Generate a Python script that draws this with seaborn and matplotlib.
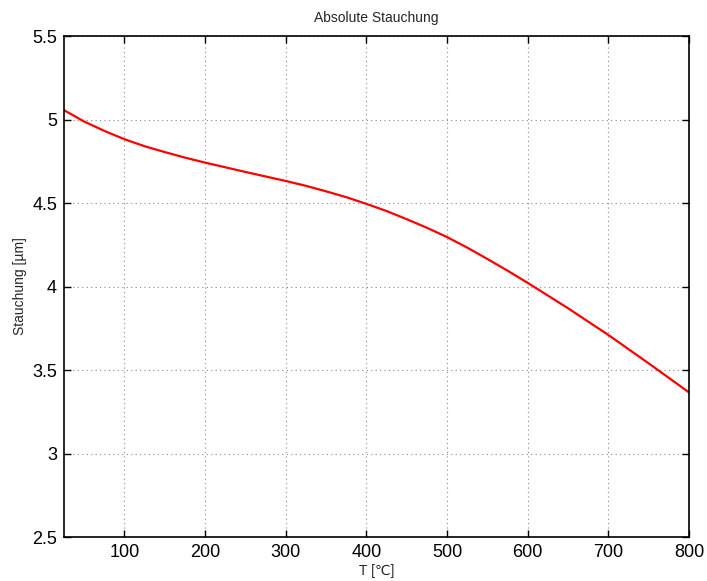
import matplotlib
matplotlib.use("Agg")
import matplotlib.pyplot as plt
import seaborn as sns
import pandas as pd

# Temperature [°C] and absolute compression [µm]
temperature = [25, 50, 75, 100, 125, 150, 175, 200, 225, 250, 275, 300, 325, 350, 375, 400,
               425, 450, 475, 500, 525, 550, 575, 600, 650, 700, 750, 800]
stauchung = [5.056, 4.988, 4.932, 4.882, 4.840, 4.805, 4.772, 4.742, 4.714, 4.686, 4.659, 4.632,
             4.603, 4.570, 4.535, 4.495, 4.452, 4.403, 4.352, 4.296, 4.233, 4.165, 4.095, 4.022,
             3.870, 3.710, 3.540, 3.366]

x_ticks = [100, 200, 300, 400, 500, 600, 700, 800]
y_ticks = [2.5, 3, 3.5, 4, 4.5, 5, 5.5]
y_ticklabels = ["2.5", "3", "3.5", "4", "4.5", "5", "5.5"]

sns.set_theme(style="white")
plt.rcParams["font.family"] = ["Liberation Sans", "DejaVu Sans"]

df = pd.DataFrame({"T": temperature, "S": stauchung})

fig = plt.figure(figsize=(7.07, 5.81), dpi=100)
ax = fig.add_axes([0.0905, 0.0757, 0.884, 0.8623])

sns.lineplot(data=df, x="T", y="S", ax=ax, color="#ff0000", linewidth=1.6)

ax.set_xlim(25, 800)
ax.set_ylim(2.5, 5.5)
ax.set_xticks(x_ticks)
ax.set_yticks(y_ticks)
ax.set_yticklabels(y_ticklabels)

ax.grid(True, linestyle=(0, (1, 3)), color="#888888", linewidth=0.8)
ax.tick_params(direction="in", length=5, width=1, colors="black",
               labelsize=13, top=True, right=True, bottom=True, left=True,
               labelcolor="black", pad=5)
for s in ax.spines.values():
    s.set_color("black")
    s.set_linewidth(1.2)

ax.set_xlabel("T [℃]", fontsize=10, labelpad=2)
ax.set_ylabel("Stauchung [µm]", fontsize=10, labelpad=4)
ax.set_title("Absolute Stauchung", fontsize=10, pad=10)

fig.savefig("out.png", dpi=100, facecolor="white")
